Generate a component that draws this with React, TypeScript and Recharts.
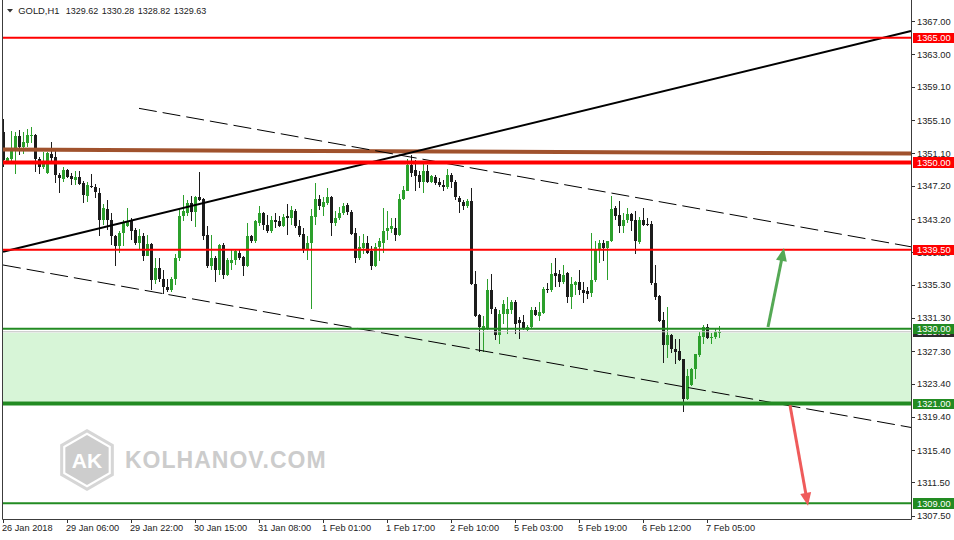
import React from 'react';
import { ComposedChart, Bar, XAxis, YAxis, ReferenceLine, ReferenceArea } from 'recharts';

const opens = [1353.7,1350.2,1350.4,1351.4,1353.2,1351.9,1352.3,1353.2,1353.3,1350.4,1349.4,1348.7,1351.0,1350.6,1348.5,1348.0,1349.1,1348.4,1347.9,1348.3,
1347.5,1346.0,1347.2,1347.0,1346.3,1343.1,1344.4,1343.1,1341.2,1339.9,1341.5,1342.3,1343.0,1341.9,1340.3,1341.1,1338.8,1340.2,1335.8,1337.3,
1336.0,1335.0,1334.6,1336.0,1338.5,1343.5,1343.9,1345.1,1344.0,1345.8,1345.6,1341.3,1337.5,1338.5,1337.1,1340.1,1336.4,1337.9,1338.3,1339.1,
1338.6,1337.5,1341.1,1340.5,1342.7,1343.9,1342.5,1341.8,1343.1,1342.9,1342.3,1343.5,1343.3,1344.2,1342.3,1341.4,1339.5,1340.3,1343.4,1345.6,
1344.6,1345.1,1345.8,1342.7,1343.3,1343.9,1344.9,1344.0,1341.5,1338.5,1339.7,1340.3,1339.3,1337.5,1339.8,1340.3,1341.7,1342.0,1342.1,1341.3,
1345.6,1346.6,1349.7,1349.1,1348.5,1347.6,1349.0,1347.6,1348.3,1347.6,1347.3,1347.0,1348.5,1347.7,1345.7,1345.2,1344.7,1345.4,1335.4,1331.6,
1329.9,1330.0,1334.6,1332.4,1329.2,1331.8,1331.8,1332.3,1333.2,1331.1,1330.8,1329.8,1330.2,1332.3,1331.5,1331.9,1334.8,1334.6,1336.7,1336.6,
1335.6,1336.7,1333.8,1335.2,1335.6,1334.7,1334.5,1334.3,1335.8,1339.5,1340.3,1339.7,1340.5,1344.5,1343.7,1342.3,1343.1,1343.8,1343.1,1340.4,
1343.1,1342.6,1342.6,1335.5,1333.9,1331.0,1328.0,1329.2,1327.5,1327.3,1326.3,1321.6,1323.2,1325.1,1326.8,1329.0,1330.2,1328.9,1329.0,1329.62];
const highs = [1355.2,1350.7,1353.8,1353.7,1353.9,1353.7,1354.0,1354.3,1353.4,1350.7,1351.3,1351.2,1352.4,1351.5,1348.7,1349.5,1349.2,1348.7,1349.0,1349.0,
1347.8,1347.7,1348.6,1347.4,1346.9,1345.0,1345.5,1343.9,1341.3,1341.7,1343.1,1344.5,1343.3,1342.1,1342.0,1341.5,1341.3,1340.3,1338.5,1338.5,
1337.1,1336.0,1336.2,1339.0,1344.4,1346.1,1345.5,1346.0,1346.0,1348.9,1345.7,1342.3,1341.3,1338.7,1340.2,1340.3,1338.5,1339.5,1339.5,1339.5,
1338.7,1342.7,1341.3,1343.1,1344.7,1344.0,1343.7,1343.5,1343.9,1343.5,1343.8,1345.0,1344.7,1344.4,1343.1,1342.1,1341.1,1344.4,1347.5,1346.1,
1345.8,1346.9,1345.9,1344.2,1344.6,1345.1,1345.1,1344.3,1342.1,1341.1,1341.4,1341.1,1339.9,1340.3,1340.9,1344.5,1344.1,1343.3,1343.3,1346.2,
1347.2,1350.4,1350.9,1350.3,1349.0,1349.9,1349.7,1348.5,1348.5,1348.1,1347.9,1349.2,1348.7,1347.9,1345.9,1345.5,1345.6,1346.9,1336.9,1331.8,
1331.5,1336.0,1336.6,1332.6,1332.3,1333.4,1333.8,1333.4,1333.4,1331.4,1331.6,1330.4,1332.6,1332.6,1333.2,1335.0,1335.5,1337.9,1338.5,1337.0,
1337.7,1336.8,1336.2,1335.7,1337.0,1335.6,1335.0,1341.5,1340.5,1340.7,1340.7,1340.6,1346.0,1344.7,1345.4,1343.9,1344.5,1343.9,1344.1,1343.4,
1344.5,1343.3,1342.9,1337.7,1334.0,1332.0,1332.6,1329.4,1328.7,1328.7,1326.4,1325.2,1325.3,1327.0,1329.6,1330.4,1330.6,1329.5,1330.0,1330.28];
const lows = [1349.5,1349.8,1349.9,1348.6,1350.9,1351.0,1351.9,1352.3,1348.8,1348.6,1349.2,1348.6,1349.9,1347.5,1346.3,1347.7,1348.1,1347.3,1347.3,1347.3,
1345.1,1345.2,1346.9,1345.7,1341.1,1342.5,1341.9,1340.1,1337.5,1339.1,1339.9,1342.2,1340.7,1340.1,1339.5,1338.1,1338.7,1334.6,1335.4,1335.6,
1334.2,1334.4,1334.4,1335.2,1338.1,1342.9,1343.5,1342.9,1342.2,1345.4,1340.7,1337.3,1337.1,1335.6,1336.4,1336.0,1336.3,1337.1,1337.7,1338.3,
1336.3,1337.4,1340.3,1340.3,1342.3,1341.9,1341.5,1341.5,1342.1,1342.2,1342.2,1341.3,1342.5,1342.1,1341.0,1339.1,1338.3,1332.4,1342.5,1344.3,
1343.5,1344.9,1341.1,1342.3,1343.1,1343.7,1343.7,1341.3,1337.9,1338.3,1339.0,1339.0,1337.1,1337.4,1338.1,1339.1,1340.7,1341.5,1340.6,1341.1,
1345.5,1346.5,1348.2,1346.6,1346.9,1346.3,1347.5,1347.5,1347.3,1347.1,1346.5,1346.8,1346.9,1345.5,1343.9,1344.3,1344.5,1335.3,1331.4,1327.2,
1327.2,1329.8,1331.8,1328.6,1328.2,1330.6,1329.4,1331.8,1329.4,1328.8,1329.8,1329.7,1330.0,1331.5,1330.9,1331.8,1334.3,1334.4,1335.0,1335.0,
1335.4,1333.1,1332.4,1334.0,1334.0,1333.1,1333.6,1333.8,1335.6,1337.9,1338.1,1335.8,1340.4,1343.1,1341.5,1341.5,1342.7,1341.7,1339.0,1340.2,
1342.3,1342.3,1335.2,1333.4,1330.8,1325.9,1326.5,1327.1,1325.8,1326.1,1320.0,1321.4,1323.1,1324.0,1326.6,1328.2,1328.8,1328.2,1328.8,1328.82];
const closes = [1350.3,1350.5,1351.6,1353.2,1351.9,1352.4,1353.3,1353.3,1350.4,1349.4,1349.9,1351.1,1350.5,1348.5,1348.1,1349.1,1348.3,1348.0,1348.2,1347.4,
1346.1,1347.3,1347.0,1346.4,1343.1,1344.5,1343.1,1341.2,1339.9,1341.5,1342.7,1342.9,1341.8,1340.3,1341.1,1338.8,1340.2,1335.8,1337.3,1336.0,
1335.0,1334.6,1336.0,1338.5,1343.5,1344.1,1345.1,1344.0,1345.8,1345.5,1341.1,1337.5,1338.5,1337.1,1340.1,1336.4,1338.3,1338.3,1339.3,1338.5,
1337.5,1341.1,1340.5,1342.9,1343.9,1342.5,1341.8,1343.1,1342.8,1342.3,1343.4,1343.3,1344.3,1342.3,1341.3,1339.5,1340.3,1343.5,1345.6,1344.8,
1345.2,1345.8,1342.7,1343.3,1343.9,1344.8,1344.0,1341.4,1338.5,1339.8,1340.3,1339.1,1337.5,1339.8,1340.6,1341.7,1342.1,1342.3,1341.3,1345.6,
1346.7,1349.7,1348.7,1348.4,1347.6,1349.0,1347.7,1348.4,1347.5,1347.3,1347.0,1348.5,1347.6,1345.8,1345.2,1344.7,1345.4,1335.4,1331.5,1330.2,
1330.3,1334.6,1332.4,1329.2,1331.8,1333.0,1332.4,1333.2,1330.6,1330.7,1330.0,1330.2,1332.3,1331.6,1332.0,1334.8,1334.6,1336.6,1336.3,1335.6,
1336.4,1333.8,1335.4,1335.6,1334.6,1334.3,1334.2,1335.9,1339.5,1340.3,1339.7,1340.5,1344.4,1343.6,1342.3,1343.1,1343.8,1343.0,1340.5,1343.1,
1342.5,1342.5,1335.5,1333.8,1330.9,1328.0,1329.2,1327.5,1327.2,1326.2,1321.6,1324.3,1325.2,1326.9,1329.1,1330.2,1328.9,1329.0,1329.6,1329.63];

const timeTicks = [0, 16, 32, 48, 64, 80, 96, 112, 128, 144, 160, 176];
const timeLabels = ['26 Jan 2018', '29 Jan 06:00', '29 Jan 22:00', '30 Jan 15:00', '31 Jan 08:00', '1 Feb 01:00',
  '1 Feb 17:00', '2 Feb 10:00', '5 Feb 03:00', '5 Feb 19:00', '6 Feb 12:00', '7 Feb 05:00'];
const priceTicks = [1367.0, 1363.0, 1359.1, 1355.1, 1351.1, 1347.2, 1343.2, 1339.2, 1335.3, 1331.3, 1327.3, 1323.4, 1319.4, 1315.4, 1311.5, 1307.5];

const redLevels = [1365.0, 1350.0, 1339.5];
const redWidths = [2, 4, 2];
const greenLevels = [1330.0, 1321.0, 1309.0];
const greenWidths = [2, 4, 2];
const currentPrice = 1329.63;
const tagValues = [currentPrice, ...redLevels, ...greenLevels];
const tagColors = ['#2b2b2b', '#ff0000', '#ff0000', '#ff0000', '#228b22', '#228b22', '#228b22'];
const axisTicks = [...priceTicks, ...tagValues];
const zoneBottom = 1321.2;
const zoneTop = 1329.5;
const brownLine = [{ x: 0, y: 1351.54 }, { x: 227, y: 1351.06 }];
const blackTrend = [{ x: 0, y: 1339.26 }, { x: 227, y: 1365.8 }];
const upperDashed = [{ x: 34, y: 1356.5 }, { x: 227, y: 1339.85 }];
const lowerDashed = [{ x: 0, y: 1337.66 }, { x: 227, y: 1318.12 }];
const greenArrow = [{ x: 191.25, y: 1330.2 }, { x: 195.25, y: 1339.7 }];
const redArrow = [{ x: 196.75, y: 1320.8 }, { x: 201.25, y: 1308.7 }];
const xDomain = [0, 227];
const yDomain = [1307.11, 1369.17];

const data = opens.map((o, i) => ({ idx: i, range: [lows[i], highs[i]], o, h: highs[i], l: lows[i], c: closes[i] }));

const FONT = '"Liberation Sans", Arial, sans-serif';

const Candle = (props: any) => {
  const { x, y, width, height, payload } = props;
  if (!payload || x == null || y == null) return null;
  const { o, h, l, c } = payload;
  const top = Math.min(y, y + height);
  const bot = Math.max(y, y + height);
  const span = h - l || 1;
  const py = (v: number) => top + ((h - v) / span) * (bot - top);
  const up = c >= o;
  const color = up ? '#2ca02c' : '#1c1c1c';
  const px = Math.round(x + width / 2);
  const bTop = py(Math.max(o, c));
  const bBot = py(Math.min(o, c));
  return (
    <g shapeRendering="crispEdges">
      <line x1={px + 0.5} x2={px + 0.5} y1={top} y2={bot} stroke={color} strokeWidth={1} />
      <rect x={px - 1} y={bTop} width={3} height={Math.max(1, bBot - bTop)} fill={color} />
    </g>
  );
};

const XTick = (p: any) => {
  const { x, y, payload } = p;
  const k = timeTicks.indexOf(payload.value);
  const tx = Math.round(x);
  return (
    <g>
      <line x1={tx + 0.5} x2={tx + 0.5} y1={y} y2={y + 4} stroke="#333" shapeRendering="crispEdges" />
      <text x={tx - 1} y={y + 12} fontSize={9.2} fontFamily={FONT} fill="#222">{k >= 0 ? timeLabels[k] : ''}</text>
    </g>
  );
};

const YTick = (p: any) => {
  const { x, y, payload, index } = p;
  const value = Number(payload.value);
  const label = value.toFixed(2);
  if (index >= priceTicks.length) {
    const k = tagValues.indexOf(value);
    return (
      <g>
        <rect x={x + 1.5} y={y - 5} width={41} height={10.5} fill={tagColors[k] || '#333'} shapeRendering="crispEdges" />
        <text x={x + 6} y={y + 3.6} fontSize={9.3} fontFamily={FONT} fill="#fff">{label}</text>
      </g>
    );
  }
  const ty = Math.round(y) + 0.5;
  return (
    <g>
      <line x1={x + 1} x2={x + 4} y1={ty} y2={ty} stroke="#333" shapeRendering="crispEdges" />
      <text x={x + 6} y={y + 3.6} fontSize={9.3} fontFamily={FONT} fill="#222">{label}</text>
    </g>
  );
};

const arrowShape = (color: string) => (p: any) => {
  const { x1, y1, x2, y2 } = p;
  const dx = x2 - x1;
  const dy = y2 - y1;
  const len = Math.hypot(dx, dy) || 1;
  const ux = dx / len, uy = dy / len;
  const nx = -uy, ny = ux;
  const hl = 13, hw = 5.5;
  const bx = x2 - ux * hl, by = y2 - uy * hl;
  return (
    <g>
      <line x1={x1} y1={y1} x2={bx + ux} y2={by + uy} stroke={color} strokeWidth={3} />
      <polygon points={`${x2},${y2} ${bx + nx * hw},${by + ny * hw} ${bx - nx * hw},${by - ny * hw}`} fill={color} />
    </g>
  );
};

const hex = (cx: number, cy: number, r: number) =>
  [0, 1, 2, 3, 4, 5].map((k) => {
    const a = (Math.PI / 3) * k - Math.PI / 2;
    return `${cx + r * Math.cos(a)},${cy + r * Math.sin(a)}`;
  }).join(' ');

export default function App() {
  return (
    <div style={{ position: 'absolute', left: 0, top: 0, width: 954, height: 540, background: '#fff' }}>
      <ComposedChart width={954} height={540} data={data} margin={{ top: 3, right: 0, bottom: 0, left: 3 }}>
        <XAxis type="number" dataKey="idx" domain={xDomain} allowDataOverflow ticks={timeTicks} interval={0}
          tick={<XTick />} tickSize={0} tickMargin={0} axisLine={false} tickLine={false} height={21} />
        <YAxis type="number" orientation="right" domain={yDomain} allowDataOverflow ticks={axisTicks} interval={0}
          tick={<YTick />} tickSize={0} tickMargin={0} axisLine={false} tickLine={false} width={43} />
        <ReferenceArea y1={zoneBottom} y2={zoneTop} fill="#d7f5d7" fillOpacity={1} stroke="none" />
        <Bar dataKey="range" barSize={4} shape={<Candle />} isAnimationActive={false} />
        <ReferenceLine segment={brownLine} stroke="#a0522d" strokeWidth={4} />
        <ReferenceLine segment={upperDashed} stroke="#000" strokeWidth={1} strokeDasharray="18 6" />
        <ReferenceLine segment={lowerDashed} stroke="#000" strokeWidth={1} strokeDasharray="18 6" />
        <ReferenceLine segment={blackTrend} stroke="#000" strokeWidth={2} />
        <ReferenceLine y={currentPrice} stroke="#c0c0c0" strokeWidth={1} />
        {redLevels.map((v, i) => (
          <ReferenceLine key={'r' + i} y={v} stroke="#ff0000" strokeWidth={redWidths[i]} />
        ))}
        {greenLevels.map((v, i) => (
          <ReferenceLine key={'g' + i} y={v} stroke="#228b22" strokeWidth={greenWidths[i]} />
        ))}
        <ReferenceLine segment={greenArrow} stroke="#55a955" shape={arrowShape('#55a955')} />
        <ReferenceLine segment={redArrow} stroke="#ef5b5b" shape={arrowShape('#ef5b5b')} />
      </ComposedChart>
      <svg width={954} height={540} style={{ position: 'absolute', left: 0, top: 0, pointerEvents: 'none' }}>
        <line x1={2.5} x2={2.5} y1={0} y2={519.5} stroke="#3c3c3c" />
        <line x1={911.5} x2={911.5} y1={0} y2={519.5} stroke="#3c3c3c" />
        <line x1={2.5} x2={911.5} y1={519.5} y2={519.5} stroke="#3c3c3c" />
        <polygon points="7,9 13,9 10,12.5" fill="#333" />
        <text x={18.3} y={14} fontSize={9.4} fontFamily={FONT} fill="#222">GOLD,H1</text>
        <text x={65.7} y={14} fontSize={9} fontFamily={FONT} fill="#222">1329.62</text>
        <text x={101.7} y={14} fontSize={9} fontFamily={FONT} fill="#222">1330.28</text>
        <text x={137.7} y={14} fontSize={9} fontFamily={FONT} fill="#222">1328.82</text>
        <text x={173.7} y={14} fontSize={9} fontFamily={FONT} fill="#222">1329.63</text>
        <polygon points={hex(87, 460, 31)} fill="#d6d6d6" />
        <polygon points={hex(87, 460, 27.5)} fill="#ffffff" />
        <polygon points={hex(87, 460, 25)} fill="#cdcdcd" />
        <text x={87} y={468} textAnchor="middle" fontSize={21} fontWeight="bold" fontFamily={FONT} fill="#ffffff">AK</text>
        <text x={125} y={468} fontSize={23} fontWeight="bold" fontFamily={FONT} fill="#cccccc" letterSpacing={1}>KOLHANOV.COM</text>
      </svg>
    </div>
  );
}
